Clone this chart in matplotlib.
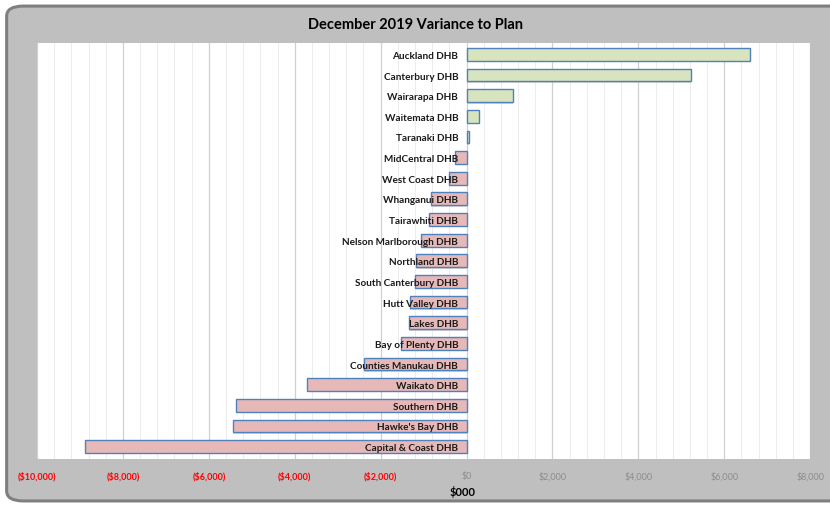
import numpy as np
import matplotlib.pyplot as plt
from matplotlib.patches import FancyBboxPatch
from matplotlib.ticker import MultipleLocator, FuncFormatter

# ── Colours (Excel default look) ─────────────────────────────
GREEN = '#d7e4bd'
PINK = '#e6b9b8'
EDGE = '#4f81bd'
PANEL = '#bfbfbf'
RED = '#ff0000'

plt.rcParams['font.family'] = ['Lato', 'DejaVu Sans']

# ── Data ($000) ──────────────────────────────────────────────
dhbs = ['Auckland DHB', 'Canterbury DHB', 'Wairarapa DHB', 'Waitemata DHB',
        'Taranaki DHB', 'MidCentral DHB', 'West Coast DHB', 'Whanganui DHB',
        'Tairawhiti DHB', 'Nelson Marlborough DHB', 'Northland DHB',
        'South Canterbury DHB', 'Hutt Valley DHB', 'Lakes DHB',
        'Bay of Plenty DHB', 'Counties Manukau DHB', 'Waikato DHB',
        'Southern DHB', "Hawke's Bay DHB", 'Capital & Coast DHB']
variance = [6600, 5230, 1070, 280, 50, -260, -410, -820, -880, -1050,
            -1170, -1210, -1310, -1340, -1520, -2390, -3720, -5360,
            -5430, -8880]

fig = plt.figure(figsize=(8.3, 5.06), dpi=100, facecolor='white')

# rounded grey chart panel
panel = FancyBboxPatch((0.008, 0.008), 1.05, 0.978,
                       boxstyle='round,pad=0,rounding_size=0.02',
                       transform=fig.transFigure, facecolor=PANEL,
                       edgecolor='#7f7f7f', linewidth=2.2, zorder=-10)
fig.patches.append(panel)

ax = fig.add_axes([0.0446, 0.091, 0.9315, 0.822])
ax.set_facecolor('white')

y = np.arange(len(dhbs))
cols = [GREEN if v >= 0 else PINK for v in variance]
# faint shadow like Excel
ax.barh(y + 0.07, variance, height=0.62, color='#a6a6a6',
        alpha=0.45, zorder=2, linewidth=0)
ax.barh(y, variance, height=0.62, color=cols, edgecolor=EDGE,
        linewidth=1.0, zorder=3)

ax.set_xlim(-10000, 8000)
ax.set_ylim(len(dhbs) - 0.4, -0.55)

ax.xaxis.set_major_locator(MultipleLocator(2000))
ax.xaxis.set_minor_locator(MultipleLocator(400))
ax.grid(which='major', axis='x', color='#d0d0d0', linewidth=0.9)
ax.grid(which='minor', axis='x', color='#ececec', linewidth=0.7)
ax.set_axisbelow(True)

def money(v, pos):
    if v < 0:
        return f'(${abs(v):,.0f})'
    return f'${v:,.0f}'

ax.xaxis.set_major_formatter(FuncFormatter(money))
ax.tick_params(axis='x', which='both', length=0, pad=9, labelsize=6.5)
for lbl, v in zip(ax.get_xticklabels(), ax.get_xticks()):
    if v < 0:
        lbl.set_color(RED)
        lbl.set_fontweight('bold')
    else:
        lbl.set_color('#8c8c8c')

# category labels sit next to the zero line, drawn over the bars
ax.spines['left'].set_position(('data', 0))
ax.set_yticks(y)
ax.set_yticklabels(dhbs, fontsize=7.2, fontweight='bold', color='#1a1a1a')
ax.tick_params(axis='y', length=0, pad=6)
ax.yaxis.set_zorder(5)
for s in ax.spines.values():
    s.set_visible(False)

ax.set_xlabel('$000', fontsize=8, fontweight='bold')
ax.xaxis.set_label_coords(0.551, -0.063)
fig.suptitle('December 2019 Variance to Plan', fontsize=10.5,
             fontweight='bold', y=0.965)

plt.savefig('out.png', dpi=100, facecolor='white')
